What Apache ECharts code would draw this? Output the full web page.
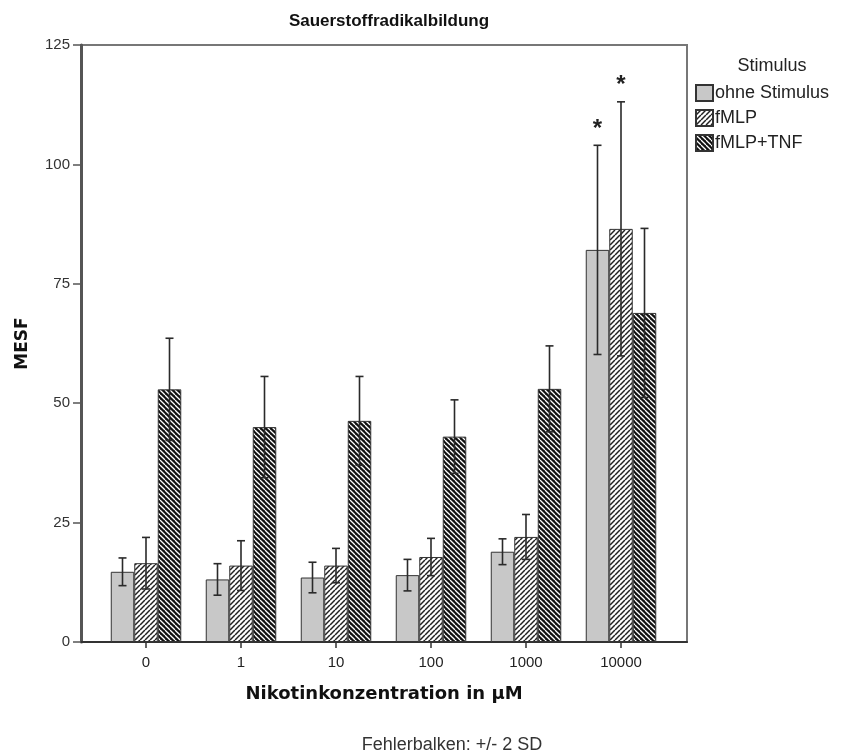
<!DOCTYPE html>
<html>
<head>
<meta charset="utf-8">
<script src="https://cdn.jsdelivr.net/npm/echarts@6/dist/echarts.min.js"></script>
<style>
html,body{margin:0;padding:0;background:#fff;}
#chart{width:848px;height:752px;}
</style>
</head>
<body>
<div id="chart"></div>
<script>
// ---- data ----
const categories = ['0', '1', '10', '100', '1000', '10000'];
const seriesNames = ['ohne Stimulus', 'fMLP', 'fMLP+TNF'];
const ohneMean = [14.7, 13.1, 13.5, 14.0, 18.9, 82.1];
const ohneErr  = [2.9, 3.3, 3.2, 3.3, 2.7, 21.9];
const fmlpMean = [16.5, 16.0, 16.0, 17.8, 22.0, 86.5];
const fmlpErr  = [5.4, 5.2, 3.6, 3.9, 4.7, 26.6];
const tnfMean  = [52.9, 45.0, 46.3, 43.0, 53.0, 68.9];
const tnfErr   = [10.7, 10.6, 9.3, 7.7, 9.0, 17.7];
const ohneStar = ['', '', '', '', '', '*'];
const fmlpStar = ['', '', '', '', '', '*'];
const tnfStar  = ['', '', '', '', '', ''];

// ---- patterns ----
function makePattern(bg, fg, dir, size, lw) {
  const c = document.createElement('canvas');
  c.width = size; c.height = size;
  const g = c.getContext('2d');
  g.fillStyle = bg; g.fillRect(0, 0, size, size);
  g.strokeStyle = fg; g.lineWidth = lw;
  for (const o of [-size, 0, size]) {
    g.beginPath();
    if (dir === '/') { g.moveTo(o, size); g.lineTo(o + size, 0); }
    else { g.moveTo(o, 0); g.lineTo(o + size, size); }
    g.stroke();
  }
  return { image: c, repeat: 'repeat' };
}
const grayFill = '#c8c8c8';
const hatchFill = makePattern('#ffffff', '#222222', '/', 5, 1.5);
const darkFill = makePattern('#111111', '#ffffff', '\\', 5, 1.3);

const means = [ohneMean, fmlpMean, tnfMean];
const errs = [ohneErr, fmlpErr, tnfErr];
const starsAll = [ohneStar, fmlpStar, tnfStar];
const fills = [grayFill, hatchFill, darkFill];
const BW = 23.5;

const chart = echarts.init(document.getElementById('chart'), null, { renderer: 'canvas' });

const series = [];
seriesNames.forEach((name, k) => {
  series.push({
    name: name, type: 'bar', xAxisIndex: 1, yAxisIndex: 1,
    barWidth: BW, barGap: '0%',
    itemStyle: { color: fills[k], borderColor: '#333', borderWidth: 1 },
    data: means[k],
    z: 2
  });
});
seriesNames.forEach((name, k) => {
  const off = (k - 1) * BW;
  series.push({
    type: 'custom', xAxisIndex: 1, yAxisIndex: 1, z: 5, silent: true,
    data: categories.map((c, i) => [i, means[k][i], errs[k][i]]),
    renderItem: function (params, api) {
      const i = api.value(0), m = api.value(1), e = api.value(2);
      const top = api.coord([i, m + e]);
      const bot = api.coord([i, m - e]);
      const x = top[0] + off;
      const st = { stroke: '#2a2a2a', lineWidth: 1.6 };
      return {
        type: 'group',
        children: [
          { type: 'line', shape: { x1: x, y1: top[1], x2: x, y2: bot[1] }, style: st },
          { type: 'line', shape: { x1: x - 4, y1: top[1], x2: x + 4, y2: top[1] }, style: st },
          { type: 'line', shape: { x1: x - 4, y1: bot[1], x2: x + 4, y2: bot[1] }, style: st }
        ]
      };
    }
  });
  series.push({
    type: 'custom', xAxisIndex: 1, yAxisIndex: 1, z: 6, silent: true,
    data: categories.map((c, i) => [i, means[k][i] + errs[k][i], starsAll[k][i]]),
    renderItem: function (params, api) {
      const i = api.value(0), t = starsAll[k][i];
      if (!t) return null;
      const p = api.coord([i, api.value(1)]);
      return {
        type: 'text',
        style: { text: t, x: p[0] + off, y: p[1] - 4, align: 'center', verticalAlign: 'bottom',
          font: 'bold 24px "Liberation Sans", Arial, sans-serif', fill: '#222' }
      };
    }
  });
});

const option = {
  animation: false,
  backgroundColor: '#ffffff',
  title: [
    { text: 'Sauerstoffradikalbildung', left: 384, top: 8, textAlign: 'center',
      textStyle: { fontFamily: 'Liberation Sans', fontWeight: 'bold', fontSize: 17, color: '#111' } },
    { text: 'Stimulus', left: 767, top: 52, textAlign: 'center',
      textStyle: { fontFamily: 'Liberation Sans', fontWeight: 'normal', fontSize: 18, color: '#222' } },
    { text: 'Fehlerbalken: +/- 2 SD', left: 447, top: 731, textAlign: 'center',
      textStyle: { fontFamily: 'Liberation Sans', fontWeight: 'normal', fontSize: 18, color: '#333' } }
  ],
  legend: {
    orient: 'vertical', left: 695, top: 84, itemWidth: 17, itemHeight: 16, itemGap: 7, padding: 0,
    icon: 'rect', selectedMode: false,
    data: seriesNames,
    textStyle: { fontFamily: 'Liberation Sans', fontSize: 18, color: '#222', padding: [0, 0, 0, -3] }
  },
  grid: [
    { left: 81, top: 45, width: 606, height: 597, show: true, borderColor: '#777', borderWidth: 2, backgroundColor: '#ffffff' },
    { left: 98.5, top: 45, width: 570, height: 597 }
  ],
  xAxis: [
    { type: 'value', gridIndex: 0, min: 0, max: 1, axisLabel: { show: false }, axisTick: { show: false },
      splitLine: { show: false }, axisLine: { show: true, lineStyle: { color: '#333', width: 2 } },
      name: 'Nikotinkonzentration in μM', nameLocation: 'middle', nameGap: 43,
      nameTextStyle: { fontFamily: 'DejaVu Sans', fontWeight: 'bold', fontSize: 18, color: '#111' } },
    { type: 'category', gridIndex: 1, data: categories, axisLine: { show: false },
      axisTick: { show: true, alignWithLabel: true, length: 6, lineStyle: { color: '#333', width: 1.5 } },
      axisLabel: { fontFamily: 'Liberation Sans', fontSize: 15, color: '#222', margin: 13 } }
  ],
  yAxis: [
    { type: 'value', gridIndex: 0, min: 0, max: 125, interval: 25, splitLine: { show: false },
      axisLine: { show: true, lineStyle: { color: '#555', width: 3 } },
      axisTick: { show: true, length: 8, lineStyle: { color: '#555', width: 1.5 } },
      axisLabel: { fontFamily: 'Liberation Sans', fontSize: 15, color: '#333', margin: 11 },
      name: 'MESF', nameLocation: 'middle', nameGap: 50, nameRotate: 90,
      nameTextStyle: { fontFamily: 'DejaVu Sans', fontWeight: 'bold', fontSize: 17, color: '#111' } },
    { type: 'value', gridIndex: 1, min: 0, max: 125, show: false }
  ],
  series: series
};
chart.setOption(option);
</script>
</body>
</html>
